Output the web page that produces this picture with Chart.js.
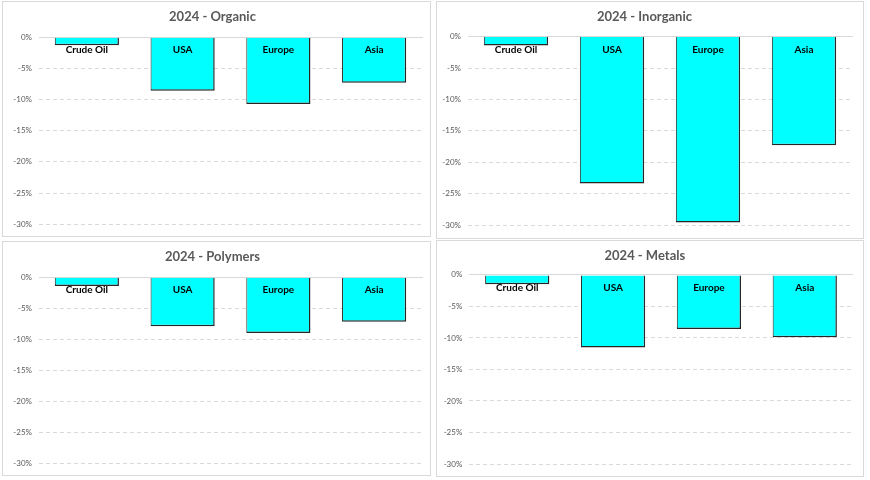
<!DOCTYPE html>
<html>
<head>
<meta charset="utf-8">
<script src="https://cdn.jsdelivr.net/npm/chart.js@4"></script>
<style>
  body { margin: 0; background: #fff; }
  .panel { position: absolute; border: 1px solid #d9d9d9; box-sizing: border-box; background: #fff; }
  .panel canvas { display: block; }
</style>
</head>
<body>
<script>
// data
const categories = ["Crude Oil", "USA", "Europe", "Asia"];
const organic = [-1.3, -8.6, -10.7, -7.3];
const inorganic = [-1.4, -23.4, -29.6, -17.3];
const polymers = [-1.4, -7.9, -9.0, -7.2];
const metals = [-1.5, -11.5, -8.6, -9.9];
const titles = ["2024 - Organic", "2024 - Inorganic", "2024 - Polymers", "2024 - Metals"];
const yMin = -30, yMax = 0, yStep = 5;

const FONT = "Lato, 'Liberation Sans', sans-serif";

// panel boxes and plot insets (canvas coords)
const panels = [
  { data: organic,   left: 2,   top: 1,   w: 429, h: 236, plotLeft: 36,   padR: 8,    padB: 10.3, tTop: 6.8, tBot: 12.8 },
  { data: inorganic, left: 436, top: 1,   w: 428, h: 238, plotLeft: 31,   padR: 11,   padB: 13,   tTop: 6.8, tBot: 12.2 },
  { data: polymers,  left: 2,   top: 241, w: 429, h: 235, plotLeft: 36,   padR: 8,    padB: 11,   tTop: 7.4, tBot: 12.2 },
  { data: metals,    left: 436, top: 240, w: 428, h: 237, plotLeft: 32.3, padR: 10.3, padB: 12,   tTop: 6.8, tBot: 11.5 }
];

panels.forEach(function (p, i) {
  const div = document.createElement("div");
  div.className = "panel";
  div.style.left = p.left + "px";
  div.style.top = p.top + "px";
  div.style.width = p.w + "px";
  div.style.height = p.h + "px";
  const cv = document.createElement("canvas");
  cv.width = p.w - 2;
  cv.height = p.h - 2;
  div.appendChild(cv);
  document.body.appendChild(div);

  new Chart(cv, {
    type: "bar",
    data: {
      labels: categories,
      datasets: [{
        data: p.data,
        backgroundColor: "#00ffff",
        borderColor: "#262626",
        borderWidth: { left: 1, right: 1.5, bottom: 1.5, top: 0 },
        borderSkipped: "start",
        barPercentage: 0.67,
        categoryPercentage: 1
      }]
    },
    options: {
      responsive: false,
      animation: false,
      layout: { padding: { left: 0, right: p.padR, top: 0, bottom: p.padB } },
      plugins: {
        legend: { display: false },
        tooltip: { enabled: false },
        title: {
          display: true,
          text: titles[i],
          color: "#595959",
          font: { family: FONT, size: 13, weight: "bold" },
          padding: { top: p.tTop, bottom: p.tBot }
        }
      },
      scales: {
        x: {
          position: { y: 0 },
          grid: { display: true, drawOnChartArea: false, drawTicks: false },
          border: { display: true, color: "#d9d9d9", width: 1, z: 0 },
          ticks: { z: 1, color: "#000", padding: 7, maxRotation: 0, autoSkip: false, font: { family: FONT, size: 10, weight: "bold" } }
        },
        y: {
          min: yMin,
          max: yMax,
          afterFit: function (s) { s.width = p.plotLeft; },
          grid: {
            color: function (ctx) { return ctx.tick && ctx.tick.value === 0 ? "rgba(0,0,0,0)" : "#d9d9d9"; },
            drawTicks: false
          },
          border: { display: false, dash: [4, 3] },
          ticks: {
            stepSize: yStep,
            padding: 7,
            color: "#595959",
            font: { family: FONT, size: 8 },
            callback: function (v) { return v + "%"; }
          }
        }
      }
    }
  });
});
</script>
</body>
</html>
